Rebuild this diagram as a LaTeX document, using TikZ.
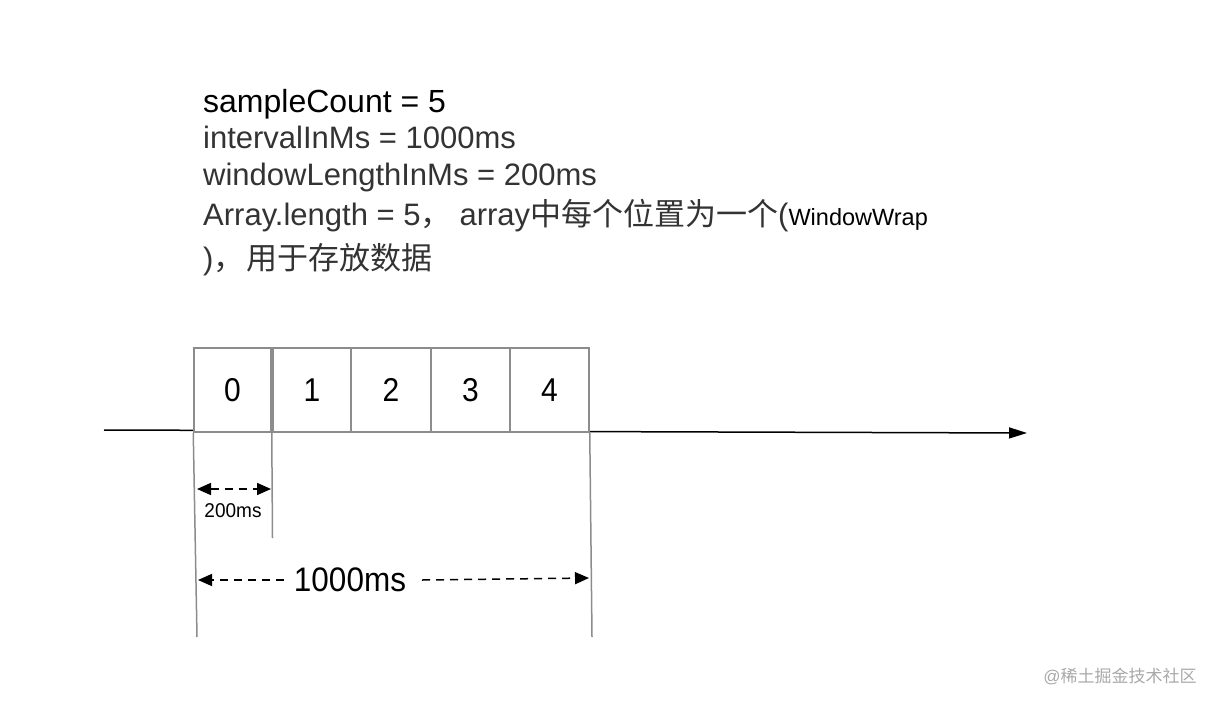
\documentclass[tikz,border=0pt]{standalone}
\usepackage{fontspec}
\usepackage{graphicx}
\setmainfont{Liberation Sans}
\newfontfamily\cjk{Noto Sans CJK SC}
\usetikzlibrary{arrows.meta}
\definecolor{boxgray}{HTML}{8C8C8C}
\definecolor{wmgray}{HTML}{A8A8A8}
\definecolor{txt}{HTML}{333333}
\newcommand\vstretch[2]{\scalebox{1}[#1]{#2}}
\tikzset{
  cell/.style={draw=boxgray, line width=1.5pt, fill=white, minimum height=84pt, inner sep=0pt, font=\fontsize{30}{34}\selectfont},
  guide/.style={draw=boxgray, line width=1.5pt},
  axisline/.style={line width=1.5pt, -{Triangle[length=18pt,width=11pt]}},
  dimline/.style={line width=1.5pt, dash pattern=on 8pt off 6pt},
  tip/.style={-{Triangle[length=14pt,width=12pt]}},
  infotext/.style={anchor=base west, inner sep=0pt, text=txt, font=\fontsize{31}{36}\selectfont},
}
\begin{document}
\begin{tikzpicture}[x=1pt,y=-1pt]
\useasboundingbox (0,0) rectangle (1220,706);
% info text
\node[infotext, text=black, font=\fontsize{32}{36}\selectfont] (t1) at (203,113) {sampleCount = 5};
\node[infotext] (t2) at (203,149) {intervalInMs = 1000ms};
\node[infotext] (t3) at (203,185) {windowLengthInMs = 200ms};
\node[infotext] (t4) at (203,225) {Array.length = 5{\cjk ，}\hspace{8pt}array{\cjk 中每个位置为一个}({\color{black}\fontsize{23.5}{26}\selectfont WindowWrap}};
\node[infotext] (t5) at (203,269) {){\cjk ，\hspace{2pt}用于存放数据}};
% axis
\coordinate (axL) at (104,430);
\coordinate (axR) at (1027,433);
\draw[axisline] (axL) -- (axR);
% cells
\node[cell, minimum width=77pt] (c0) at (232.5,390) {\vstretch{1.1}{0}};
\node[cell, minimum width=78pt] (c1) at (312,390) {\vstretch{1.1}{1}};
\node[cell, minimum width=80pt] (c2) at (391,390) {\vstretch{1.1}{2}};
\node[cell, minimum width=79pt] (c3) at (470.5,390) {\vstretch{1.1}{3}};
\node[cell, minimum width=79pt] (c4) at (549.5,390) {\vstretch{1.1}{4}};
% guides
\coordinate (g0) at (197,637);
\coordinate (g1) at (272.5,538);
\coordinate (g5) at (592,637);
\draw[guide] (c0.south west) -- (g0);
\draw[guide] (c0.south east) -- (g1);
\draw[guide] (c4.south east) -- (g5);
% 200ms
\coordinate (d1) at (197,489);
\coordinate (d2) at (271,489);
\draw[dimline, {Triangle[length=14pt,width=12pt]}-{Triangle[length=14pt,width=12pt]}] (d1) -- (d2);
\node[font=\fontsize{19}{21}\selectfont, inner sep=0pt] (l200) at (233,511) {\vstretch{1.05}{200ms}};
% 1000ms
\node[font=\fontsize{31.5}{34}\selectfont, inner sep=0pt] (l1000) at (350,580) {\vstretch{1.08}{1000ms}};
\coordinate (e1) at (198,580);
\coordinate (e2) at (589,578);
\draw[dimline, tip] ([xshift=-10pt]l1000.west) -- (e1);
\draw[dimline, tip] ([xshift=16pt]l1000.east) -- (e2);
% watermark
\node[font=\fontsize{17}{20}\selectfont, text=wmgray, inner sep=0pt] (wm) at (1120,676) {@{\cjk 稀土掘金技术社区}};
\end{tikzpicture}
\end{document}
